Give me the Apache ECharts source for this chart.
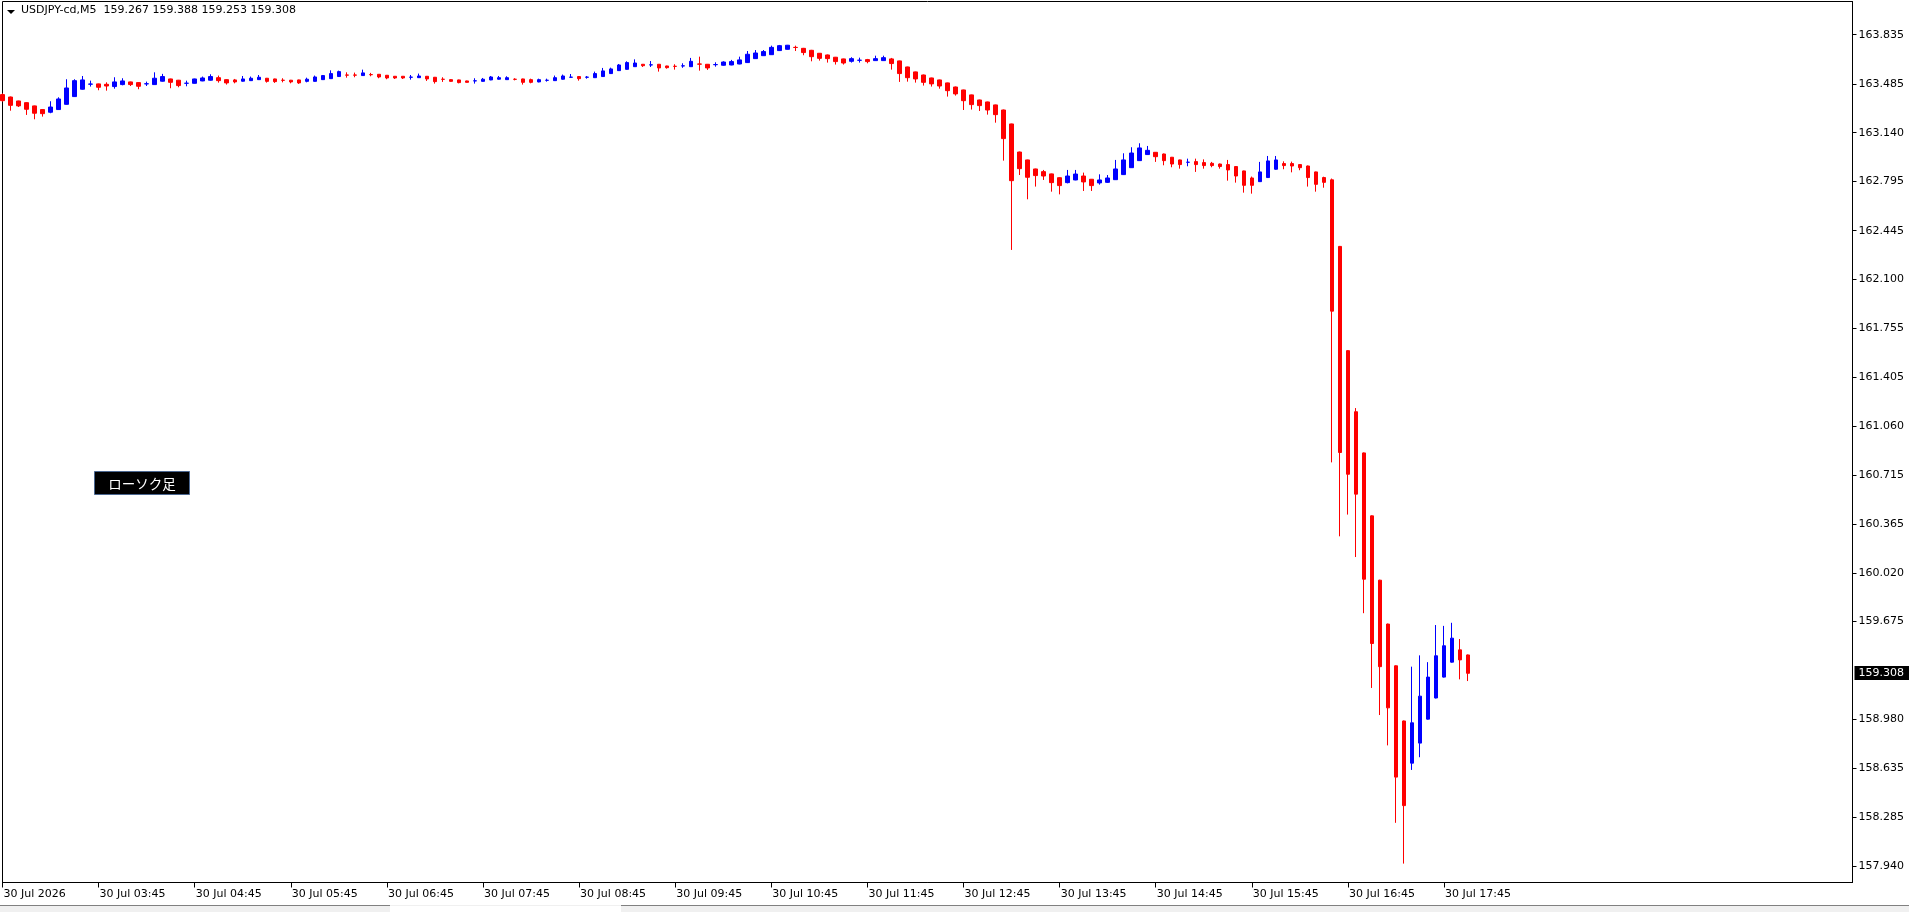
<!DOCTYPE html>
<html><head><meta charset="utf-8">
<script src="https://cdn.jsdelivr.net/npm/echarts@6/dist/echarts.min.js"></script>
<style>html,body{margin:0;padding:0;background:#fff;overflow:hidden}#c{width:1909px;height:912px;}</style>
</head><body><div id="c"></div>
<script>
// ---- data ----
const symbolName = 'USDJPY-cd,M5';
const headerOHLC = ['159.267', '159.388', '159.253', '159.308'];
const legendLabel = 'ローソク足';
const firstBarTime = '02:45';
const futureSlots = 48;

const openVals = [
163.410,163.393,163.365,163.353,163.330,163.304,163.285,163.304,163.341,163.396,163.448,163.484,163.486,163.483,163.467,163.481,163.500,163.495,163.486,163.481,
163.505,163.521,163.512,163.490,163.490,163.507,163.512,163.530,163.516,163.514,163.505,163.509,163.516,163.526,163.521,163.512,163.512,163.514,163.504,163.504,
163.516,163.523,163.538,163.549,163.549,163.545,163.552,163.554,163.547,163.540,163.540,163.533,163.530,163.540,163.533,163.519,163.516,163.514,163.507,163.507,
163.504,163.514,163.519,163.516,163.519,163.521,163.516,163.500,163.511,163.509,163.519,163.533,163.538,163.533,163.530,163.538,163.559,163.580,163.589,163.608,
163.625,163.620,163.625,163.613,163.611,163.613,163.608,163.627,163.625,163.622,163.618,163.620,163.627,163.637,163.665,163.686,163.693,163.722,163.731,163.745,
163.738,163.724,163.703,163.691,163.675,163.663,163.646,163.653,163.658,163.651,163.651,163.663,163.649,163.606,163.571,163.549,163.528,163.514,163.493,163.464,
163.443,163.408,163.372,163.358,163.337,163.301,163.202,163.003,162.947,162.883,162.864,162.848,162.821,162.786,162.805,162.833,162.810,162.784,162.788,162.807,
162.843,162.892,162.942,162.985,163.001,162.989,162.966,162.947,162.930,162.935,162.928,162.923,162.918,162.914,162.900,162.869,162.819,162.793,162.822,162.881,
162.921,162.921,162.914,162.904,162.862,162.822,162.806,162.334,161.595,161.162,160.870,160.424,159.968,159.657,159.361,158.970,158.671,158.813,158.983,159.133,
159.281,159.387,159.474,159.438
];
const closeVals = [
163.367,163.334,163.330,163.306,163.278,163.275,163.322,163.379,163.457,163.509,163.514,163.485,163.462,163.471,163.500,163.507,163.481,163.469,163.487,163.526,
163.538,163.497,163.474,163.491,163.521,163.528,163.538,163.509,163.493,163.500,163.521,163.526,163.533,163.504,163.502,163.511,163.500,163.493,163.519,163.535,
163.545,163.559,163.573,163.548,163.548,163.564,163.551,163.535,163.528,163.528,163.528,163.534,163.542,163.521,163.502,163.518,163.504,163.495,163.497,163.508,
163.519,163.535,163.530,163.530,163.518,163.497,163.497,163.516,163.512,163.530,163.542,163.534,163.523,163.534,163.559,163.578,163.592,163.620,163.637,163.634,
163.615,163.621,163.599,163.601,163.610,163.614,163.646,163.626,163.599,163.623,163.641,163.644,163.656,163.696,163.705,163.715,163.745,163.757,163.760,163.744,
163.708,163.679,163.667,163.665,163.644,163.634,163.665,163.654,163.644,163.665,163.672,163.630,163.559,163.530,163.521,163.497,163.486,163.471,163.438,163.415,
163.367,163.339,163.332,163.301,163.268,163.098,162.800,162.885,162.824,162.836,162.833,162.786,162.765,162.833,162.847,162.791,162.765,162.805,162.819,162.883,
162.947,162.996,163.032,163.015,162.970,162.942,162.918,162.914,162.931,162.914,162.907,162.907,162.900,162.876,162.833,162.767,162.767,162.862,162.940,162.947,
162.907,162.904,162.892,162.822,162.774,162.788,161.875,160.873,160.719,160.578,159.975,159.519,159.355,159.063,158.572,158.370,158.957,159.146,159.281,159.432,
159.503,159.557,159.403,159.308
];
const lowVals = [
163.360,163.296,163.322,163.266,163.235,163.254,163.278,163.301,163.339,163.393,163.445,163.467,163.441,163.438,163.452,163.476,163.471,163.448,163.471,163.479,
163.502,163.455,163.462,163.469,163.488,163.505,163.509,163.495,163.481,163.490,163.502,163.507,163.514,163.495,163.493,163.497,163.490,163.486,163.497,163.502,
163.514,163.521,163.535,163.530,163.533,163.542,163.540,163.526,163.519,163.521,163.521,163.516,163.528,163.507,163.488,163.500,163.502,163.490,163.495,163.488,
163.502,163.512,163.516,163.514,163.511,163.481,163.490,163.497,163.502,163.507,163.516,163.528,163.509,163.523,163.528,163.535,163.556,163.578,163.587,163.606,
163.606,163.606,163.573,163.594,163.587,163.600,163.606,163.580,163.585,163.608,163.615,163.618,163.625,163.634,163.663,163.684,163.691,163.719,163.729,163.719,
163.689,163.646,163.651,163.637,163.623,163.623,163.637,163.637,163.632,163.649,163.649,163.587,163.500,163.502,163.495,163.474,163.467,163.452,163.396,163.403,
163.301,163.304,163.294,163.268,163.211,162.942,162.309,162.840,162.668,162.758,162.805,162.722,162.703,162.781,162.803,162.727,162.727,162.772,162.784,162.805,
162.840,162.890,162.940,162.982,162.933,162.909,162.895,162.885,162.902,162.862,162.885,162.895,162.885,162.800,162.786,162.715,162.708,162.791,162.819,162.878,
162.881,162.859,162.874,162.758,162.722,162.750,160.803,160.279,160.433,160.132,159.734,159.204,159.012,158.797,158.248,157.959,158.623,158.713,158.980,159.130,
159.278,159.384,159.265,159.253
];
const highVals = [
163.419,163.396,163.367,163.356,163.332,163.308,163.363,163.391,163.519,163.519,163.542,163.509,163.488,163.497,163.533,163.526,163.502,163.497,163.502,163.568,
163.557,163.523,163.514,163.509,163.523,163.538,163.554,163.545,163.519,163.521,163.542,163.538,163.549,163.528,163.523,163.526,163.514,163.516,163.530,163.545,
163.549,163.582,163.580,163.568,163.566,163.587,163.564,163.556,163.549,163.542,163.542,163.549,163.559,163.542,163.535,163.533,163.519,163.516,163.509,163.526,
163.528,163.542,163.542,163.540,163.526,163.523,163.523,163.523,163.523,163.545,163.552,163.556,163.542,163.542,163.573,163.599,163.601,163.627,163.646,163.660,
163.627,163.648,163.627,163.615,163.625,163.632,163.670,163.679,163.627,163.639,163.646,163.656,163.679,163.719,163.726,163.726,163.757,163.762,163.762,163.757,
163.741,163.727,163.705,163.694,163.677,163.665,163.675,163.672,163.663,163.686,163.686,163.670,163.651,163.608,163.573,163.552,163.530,163.516,163.495,163.467,
163.445,163.410,163.374,163.360,163.339,163.304,163.204,163.006,162.949,162.885,162.876,162.850,162.824,162.876,162.876,162.857,162.812,162.845,162.840,162.947,
162.994,163.037,163.065,163.046,163.003,162.992,162.968,162.949,162.956,162.956,162.951,162.933,162.921,162.947,162.902,162.871,162.829,162.933,162.975,162.975,
162.937,162.935,162.916,162.907,162.864,162.828,162.815,162.337,161.598,161.188,160.873,160.427,159.971,159.660,159.364,158.973,159.355,159.435,159.387,159.650,
159.644,159.666,159.551,159.441
];

const xTickLabels = ['30 Jul 2026','30 Jul 03:45','30 Jul 04:45','30 Jul 05:45','30 Jul 06:45','30 Jul 07:45','30 Jul 08:45','30 Jul 09:45',
  '30 Jul 10:45','30 Jul 11:45','30 Jul 12:45','30 Jul 13:45','30 Jul 14:45','30 Jul 15:45','30 Jul 16:45','30 Jul 17:45'];
const yTickLabels = ['163.835','163.485','163.140','162.795','162.445','162.100','161.755','161.405','161.060',
  '160.715','160.365','160.020','159.675','158.980','158.635','158.285','157.940'];

// ---- build ----
const FONT = 'DejaVu Sans';
const startMin = parseInt(firstBarTime.split(':')[0], 10) * 60 + parseInt(firstBarTime.split(':')[1], 10);
const categories = [];
for (let i = 0; i < openVals.length + futureSlots; i++) {
  const m = startMin + 5 * i;
  categories.push('30 Jul ' + String(Math.floor(m / 60)).padStart(2, '0') + ':' + String(m % 60).padStart(2, '0'));
}
const candleData = openVals.map((o, i) => [o, closeVals[i], lowVals[i], highVals[i]]);
const yTickValues = yTickLabels.map(Number);
const lastClose = closeVals[closeVals.length - 1];
const showTick = (idx) => idx % 12 === 0 && idx / 12 < xTickLabels.length;

const chart = echarts.init(document.getElementById('c'), null, {renderer: 'canvas'});
chart.setOption({
  animation: false,
  backgroundColor: '#ffffff',
  grid: {left: 2.5, top: 1.5, right: 56.5, bottom: 29.5, show: true, borderColor: '#000', borderWidth: 1, backgroundColor: 'transparent'},
  xAxis: {
    type: 'category', data: categories, boundaryGap: false,
    axisLine: {show: true, lineStyle: {color: '#000', width: 1}},
    axisTick: {show: true, interval: (i) => showTick(i), length: 5, lineStyle: {color: '#000'}},
    axisLabel: {show: true, interval: (i) => showTick(i), formatter: (v, i) => xTickLabels[i / 12],
      align: 'left', margin: 6, color: '#000', fontFamily: FONT, fontSize: 11, padding: [0, 0, 0, 1]},
    splitLine: {show: false}
  },
  yAxis: {
    type: 'value', position: 'right', min: 157.825, max: 164.070, scale: true,
    axisLine: {show: true, lineStyle: {color: '#000', width: 1}},
    axisTick: {show: true, customValues: yTickValues, length: 4, lineStyle: {color: '#000'}},
    axisLabel: {show: true, customValues: yTickValues, formatter: (v) => Number(v).toFixed(3), margin: 6,
      color: '#000', fontFamily: FONT, fontSize: 11},
    splitLine: {show: false}
  },
  series: [{
    type: 'candlestick', data: candleData, barWidth: 4, clip: true,
    itemStyle: {color: '#0000ff', color0: '#ff0000', borderColor: '#0000ff', borderColor0: '#ff0000', borderWidth: 1},
    markLine: {
      silent: true, symbol: ['none', 'none'], animation: false,
      lineStyle: {width: 0, color: 'rgba(0,0,0,0)'},
      label: {show: true, position: 'end', formatter: lastClose.toFixed(3), backgroundColor: '#000', color: '#fff',
        fontFamily: FONT, fontSize: 11, padding: [2, 6, 1, 4], distance: 2},
      data: [{yAxis: lastClose}]
    }
  }],
  graphic: [
    {type: 'polygon', shape: {points: [[7, 10], [15, 10], [11, 14]]}, style: {fill: '#000'}},
    {type: 'text', left: 21, top: 5, style: {text: symbolName + '  ' + headerOHLC.join(' '), fill: '#000', font: '11px "DejaVu Sans"'}},
    {type: 'group', left: 94, top: 471, children: [
      {type: 'rect', shape: {x: 0.5, y: 0.5, width: 95, height: 23}, style: {fill: '#000', stroke: '#4b6790', lineWidth: 1}},
      {type: 'text', x: 48, y: 12.5, style: {text: legendLabel, fill: '#fff', font: '13.5px "Noto Sans CJK JP"', align: 'center', verticalAlign: 'middle'}}
    ]},
    {type: 'rect', shape: {x: 0, y: 905, width: 1909, height: 7}, style: {fill: '#f0f0f0'}},
    {type: 'line', shape: {x1: 0, y1: 905.5, x2: 390, y2: 905.5}, style: {stroke: '#808080', lineWidth: 1}},
    {type: 'line', shape: {x1: 621, y1: 905.5, x2: 1909, y2: 905.5}, style: {stroke: '#808080', lineWidth: 1}},
    {type: 'rect', shape: {x: 390, y: 906, width: 231, height: 6}, style: {fill: '#ffffff'}}
  ]
});
</script>
</body></html>
